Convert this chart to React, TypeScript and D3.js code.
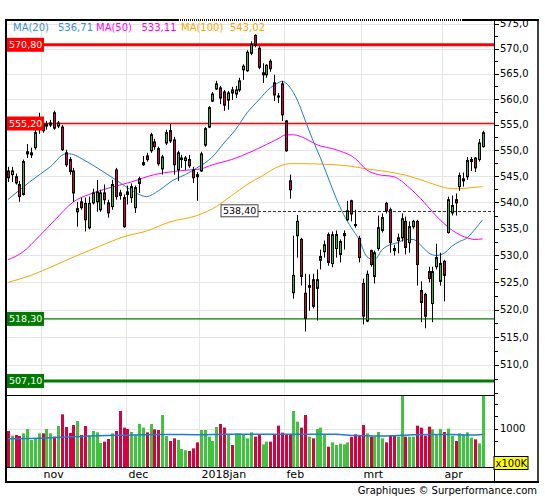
import React from "react";
import * as d3 from "d3";

// ---- data (AEX, daily, 19 Oct 2017 .. 17 Apr 2018) ----
const OPEN = [546.0,545.3,544.9,543.4,541.5,549.3,549.1,550.5,554.7,555.1,554.7,554.9,557.3,554.7,554.5,549.5,548.2,546.0,538.2,540.1,539.8,535.2,539.9,540.1,538.6,541.8,539.9,539.2,546.2,541.8,540.9,542.0,540.9,539.0,543.6,547.2,548.9,549.9,551.6,550.3,546.4,551.4,553.8,552.0,546.2,548.2,548.0,548.2,546.2,545.3,546.0,551.0,554.5,559.6,562.0,562.2,561.4,559.8,561.8,561.0,561.8,565.8,565.6,569.1,572.7,570.1,564.8,564.8,567.5,563.2,560.6,563.0,555.7,544.1,523.1,533.7,533.0,523.0,524.1,525.5,523.9,529.1,530.7,533.9,528.5,531.3,530.2,533.7,536.7,540.3,535.8,533.2,524.8,517.9,530.9,526.1,531.3,534.7,539.8,538.6,531.3,532.8,533.3,536.4,532.4,535.4,536.4,523.5,522.8,527.0,521.1,527.9,525.2,528.9,534.3,538.0,540.5,543.0,544.1,544.9,547.8,548.5,548.2,550.7];
const HIGH = [546.8,546.8,545.5,544.1,548.2,551.2,550.5,554.0,557.3,555.9,555.7,555.9,557.7,555.7,554.9,550.1,548.7,546.6,540.1,540.9,540.9,541.1,542.6,544.3,542.4,543.4,540.5,544.3,546.6,542.4,541.5,543.2,543.6,543.2,544.9,548.9,549.5,553.4,552.2,550.7,549.1,554.0,555.1,552.6,549.9,549.1,548.9,549.1,546.8,545.8,549.7,554.5,558.6,561.4,563.6,562.6,561.8,561.6,562.4,562.6,564.2,566.9,569.7,571.5,572.9,570.5,567.1,566.9,567.9,564.8,561.2,563.6,555.9,545.3,533.7,537.6,533.3,526.6,526.5,526.6,527.4,531.1,532.8,534.3,534.5,534.7,533.0,534.7,540.3,540.5,538.6,533.7,525.7,527.2,531.1,530.9,537.5,537.9,540.1,539.0,532.0,534.1,537.9,537.3,536.4,536.7,536.7,525.2,523.1,527.9,527.9,532.2,530.5,529.2,541.1,541.3,541.7,545.7,545.7,548.7,548.7,548.7,552.2,553.8];
const LOW = [543.9,543.9,543.4,540.1,541.3,548.5,548.5,550.1,553.2,553.4,554.0,554.5,554.0,554.3,549.9,546.8,545.3,540.1,535.4,538.6,534.5,534.9,539.6,538.2,538.2,539.6,537.1,538.6,540.5,540.5,535.2,539.6,539.9,538.0,541.8,547.0,547.8,549.5,550.1,547.0,545.3,551.0,551.4,545.3,544.1,546.6,546.2,546.6,543.7,540.3,545.8,550.7,554.3,559.4,561.8,559.0,557.7,557.9,559.8,560.2,561.4,563.8,565.4,568.7,570.3,565.9,563.2,564.2,565.4,559.6,559.2,555.7,549.7,540.7,522.0,529.6,524.4,516.0,519.8,520.2,518.0,527.4,529.6,528.1,527.8,529.6,528.7,531.1,536.4,536.4,535.2,528.7,517.3,517.7,527.9,524.8,530.9,534.3,537.9,530.5,530.0,530.4,532.6,530.2,530.5,535.0,524.4,517.7,516.6,525.0,517.7,527.4,524.4,521.5,534.1,537.5,537.5,542.2,543.0,544.3,546.0,545.8,547.8,550.5];
const CLOSE = [544.7,546.0,543.7,541.1,547.8,549.7,549.5,553.4,555.5,553.8,555.1,555.3,554.3,555.3,550.1,547.2,545.9,541.8,538.8,539.0,536.7,539.8,541.8,542.0,541.8,540.5,538.0,543.4,541.1,541.3,535.4,541.5,543.0,542.8,544.5,547.6,548.2,553.0,550.7,547.4,548.7,553.4,551.8,547.2,549.5,548.5,548.5,547.0,544.7,544.9,549.3,554.2,558.3,561.0,563.0,560.2,558.8,561.2,561.2,561.8,563.6,566.5,569.3,570.9,570.7,566.3,565.2,566.7,566.0,560.8,560.4,556.9,549.9,542.4,526.3,536.4,526.1,518.4,524.4,520.6,525.5,529.8,532.0,528.7,533.9,533.9,532.6,534.1,538.4,537.8,535.6,529.6,518.8,526.5,528.3,530.5,535.2,537.1,538.4,532.4,530.9,533.3,536.9,531.5,535.4,536.4,528.3,521.3,518.8,525.7,527.0,529.6,528.5,526.3,540.5,539.4,539.9,545.1,544.5,548.0,548.2,546.6,551.4,553.4];
// volume in units of 100K
const VOLUME = [954,861,874,854,907,994,774,807,907,907,994,907,841,1054,1287,1034,914,1074,1154,874,1054,867,954,927,714,741,794,907,954,1354,1021,994,934,874,1094,1021,927,1094,987,974,1274,854,754,807,774,594,567,554,607,727,974,974,841,754,1034,1094,1021,887,674,907,907,874,807,927,841,887,687,741,741,887,1061,921,887,887,1354,1141,1021,1274,841,807,994,1021,887,641,727,674,701,687,727,834,887,874,1074,907,841,841,934,807,727,874,874,841,1800,841,841,841,1061,1021,861,1041,987,874,994,934,1001,861,754,907,874,927,821,787,707,1800];

// moving averages (candle index, value)
const MA20_IDX = [0,6,11,15,16,20,24,28,31,34,36,39,43,46,49,53,56,59,62,65,68,70,71,72,73,75,77,79,81,83,85,87,89,91,93,95,97,99,101,103,105,107,109,111,113,115,117,119,121,123];
const MA20_VAL = [540.5,544.1,546.8,549.3,549.3,548.0,546.2,544.3,542.8,541.5,541.1,542.2,544.3,545.3,546.6,548.7,551.4,554.0,557.3,559.8,562.2,563.2,563.5,563.2,562.4,559.8,555.9,552.0,548.5,544.7,540.9,537.7,535.2,533.0,529.8,529.2,531.1,532.0,532.4,533.0,533.0,531.9,530.5,530.0,530.4,531.7,532.6,533.3,534.9,536.7];
const MA50_IDX = [0,4,8,12,17,21,26,32,38,43,47,50,53,58,63,67,70,72,74,77,80,85,90,93,96,100,104,107,110,113,116,119,121,123];
const MA50_VAL = [529.2,530.7,533.5,536.5,540.1,541.5,542.7,543.9,545.3,545.9,546.2,546.4,547.2,548.2,549.7,551.1,552.2,553.0,553.0,552.3,551.1,550.1,548.4,546.2,545.3,544.9,542.8,540.7,538.2,536.0,534.3,533.3,533.0,533.1];
const MA100_IDX = [0,6,12,18,24,30,36,42,49,54,58,62,66,70,73,77,82,88,93,98,103,107,111,114,117,120,123];
const MA100_VAL = [525.0,526.3,528.1,530.0,531.8,533.5,534.6,536.3,537.5,539.2,541.3,543.4,545.1,546.8,547.4,547.4,547.3,547.0,546.4,545.9,545.2,544.3,543.3,542.7,542.6,542.8,543.0];
const VOLMA_IDX = [0,10,20,30,40,50,56,70,80,85,90,95,100,105,110,115,120,123];
const VOLMA_VAL = [800,815,850,870,885,880,890,888,890,887,862,856,860,878,885,882,875,885];

const MONTH_LABELS = ["nov", "dec", "2018jan", "feb", "mrt", "apr"];
const MONTH_START = [9, 31, 50, 72, 92, 113];
const PRICE_TICKS = [510, 515, 520, 525, 530, 535, 540, 545, 550, 555, 560, 565, 570, 575];
const PRICE_MINOR = [505, 507.5, 512.5, 517.5, 522.5, 527.5, 532.5, 537.5, 542.5, 547.5, 552.5, 557.5, 562.5, 567.5, 572.5];
const VOL_TICKS = [750, 1000, 1250, 1500];
const LEVEL_VALUES = [570.8, 555.2, 518.3, 507.1];
const LEVEL_COLORS = ["#ff0000", "#ff0000", "#007a00", "#007a00"];
const LEVEL_WIDTHS = [3, 1.3, 1.3, 3];
const LAST_PRICE = 538.4;
const LEGEND_NAMES = ["MA(20)", "MA(50)", "MA(100)"];
const LEGEND_VALUES = [536.71, 533.11, 543.02];
const LEGEND_COLORS = ["#1f7ad8", "#ff00ff", "#ffa500"];

const FONT = "'DejaVu Sans', Verdana, sans-serif";
const GREEN = "#3cb43c";
const RED = "#d4003c";
const VGREEN = "#40c440";
const VRED = "#d8003f";

const fmt1 = (v: number) => d3.format(".1f")(v).replace(".", ",");
const fmt2 = (v: number) => d3.format(".2f")(v).replace(".", ",");

export default function App() {
  const W = 545, H = 500;
  const L = 7, R = 494, TOP = 20, PB = 395, VB = 467, XB = 482, OUTR = 538;
  const N = CLOSE.length;
  const x = d3.scaleLinear().domain([0, N - 1]).range([7.8, 7.8 + 3.86 * (N - 1)]);
  const step = 3.86;
  const y = d3.scaleLog().domain([504.6, 575.8]).range([PB, TOP]);
  const yv = d3.scaleLinear().domain([234, 1674]).range([VB, PB]);
  const cx = (i: number) => Math.round(x(i)) + 0.5;

  const maLine = d3.line<number>().curve(d3.curveMonotoneX);
  const mkPath = (idx: number[], val: number[], sy: (v: number) => number) =>
    maLine(idx.map((d, k) => [x(d), sy(val[k])] as any) as any) || "";

  const legendX = [13, 96, 181];
  const legendValX = [58, 141.5, 230];

  return (
    <svg width={W} height={H} style={{ position: "absolute", left: 0, top: 0, background: "#fff" }} fontFamily={FONT}>
      <defs>
        <clipPath id="pclip"><rect x={L} y={TOP} width={R - L} height={PB - TOP} /></clipPath>
        <clipPath id="vclip"><rect x={L} y={PB} width={R - L} height={VB - PB} /></clipPath>
      </defs>
      <rect x={0} y={0} width={W} height={H} fill="#fff" />

      {/* grid */}
      {PRICE_TICKS.map((t) => (
        <line key={"gh" + t} x1={L} x2={R} y1={Math.round(y(t)) + 0.5} y2={Math.round(y(t)) + 0.5} stroke="#e6e6e6" strokeWidth={1} />
      ))}
      <line x1={L} x2={R} y1={Math.round(yv(1000)) + 0.5} y2={Math.round(yv(1000)) + 0.5} stroke="#e6e6e6" />
      {MONTH_START.map((m) => {
        const gx = Math.round(x(m) - step / 2) + 0.5;
        return <line key={"gv" + m} x1={gx} x2={gx} y1={TOP} y2={VB} stroke="#e6e6e6" strokeWidth={1} />;
      })}

      {/* level lines */}
      {LEVEL_VALUES.map((v, k) => (
        <line key={"lv" + k} x1={L} x2={R} y1={y(v)} y2={y(v)} stroke={LEVEL_COLORS[k]} strokeWidth={LEVEL_WIDTHS[k]} />
      ))}
      <line x1={258} x2={R} y1={Math.round(y(LAST_PRICE)) + 0.5} y2={Math.round(y(LAST_PRICE)) + 0.5} stroke="#333" strokeWidth={1} strokeDasharray="3,2" />

      {/* moving averages */}
      <g clipPath="url(#pclip)" fill="none" strokeWidth={1}>
        <path d={mkPath(MA100_IDX, MA100_VAL, y)} stroke={LEGEND_COLORS[2]} />
        <path d={mkPath(MA50_IDX, MA50_VAL, y)} stroke={LEGEND_COLORS[1]} />
        <path d={mkPath(MA20_IDX, MA20_VAL, y)} stroke={LEGEND_COLORS[0]} />
      </g>

      {/* candles */}
      <g clipPath="url(#pclip)">
        {CLOSE.map((c, i) => {
          const o = OPEN[i];
          const up = c >= o;
          const top = y(Math.max(o, c));
          const bot = y(Math.min(o, c));
          const X = cx(i);
          return (
            <g key={"c" + i}>
              <line x1={X} x2={X} y1={y(HIGH[i])} y2={y(LOW[i])} stroke="#000" strokeWidth={1} />
              <rect x={X - 1} y={top} width={2} height={Math.max(1, bot - top)} fill={up ? GREEN : RED} stroke="#000" strokeWidth={1} />
            </g>
          );
        })}
      </g>

      {/* level labels */}
      {LEVEL_VALUES.map((v, k) => (
        <g key={"lb" + k}>
          <rect x={L} y={y(v) - 7} width={37} height={14} fill={LEVEL_COLORS[k] === "#ff0000" ? "#ff0000" : "#007a00"} />
          <text x={L + 2} y={y(v) + 3.5} fontSize={9.5} fill="#fff">{fmt2(v)}</text>
        </g>
      ))}
      <rect x={221} y={y(LAST_PRICE) - 6} width={37} height={12} fill="#fff" stroke="#444" strokeWidth={1} />
      <text x={223} y={y(LAST_PRICE) + 3.5} fontSize={9.5} fill="#000">{fmt2(LAST_PRICE)}</text>

      {/* legend */}
      {LEGEND_NAMES.map((n, k) => (
        <g key={"lg" + k} fontSize={10} fill={k === 0 ? "#3b8ee0" : LEGEND_COLORS[k]}>
          <text x={legendX[k]} y={31}>{n}</text>
          <text x={legendValX[k]} y={31}>{fmt2(LEGEND_VALUES[k])}</text>
        </g>
      ))}

      {/* volume */}
      <g clipPath="url(#vclip)">
        {VOLUME.map((v, i) => {
          const up = CLOSE[i] >= OPEN[i];
          const X = cx(i);
          return <rect key={"v" + i} x={X - 1.5} y={yv(v)} width={3} height={VB - yv(v)} fill={up ? VGREEN : VRED} />;
        })}
        <path d={mkPath(VOLMA_IDX, VOLMA_VAL, yv)} fill="none" stroke="#1f7ad8" strokeWidth={1.5} />
      </g>

      {/* axes & frames */}
      <line x1={L} x2={R} y1={PB + 0.5} y2={PB + 0.5} stroke="#000" strokeWidth={1} />
      <line x1={L} x2={R} y1={VB + 0.5} y2={VB + 0.5} stroke="#000" strokeWidth={1} />
      <line x1={R + 0.5} x2={R + 0.5} y1={TOP} y2={XB} stroke="#000" strokeWidth={1} />
      <line x1={6} x2={178} y1={20} y2={20} stroke="#000" strokeWidth={2} />
      <line x1={178} x2={463} y1={20} y2={20} stroke="#000" strokeWidth={2} strokeDasharray="1,1" />
      <line x1={463} x2={OUTR + 1} y1={20} y2={20} stroke="#000" strokeWidth={2} />
      <line x1={6} x2={6} y1={19} y2={XB + 1} stroke="#000" strokeWidth={2} />
      <line x1={OUTR} x2={OUTR} y1={19} y2={XB + 1} stroke="#000" strokeWidth={1.5} />
      <line x1={6} x2={OUTR + 1} y1={XB} y2={XB} stroke="#000" strokeWidth={2} />

      {/* price axis */}
      {PRICE_TICKS.map((t) => (
        <g key={"pt" + t}>
          <line x1={R} x2={R + 5} y1={Math.round(y(t)) + 0.5} y2={Math.round(y(t)) + 0.5} stroke="#000" />
          <text x={R + 6} y={y(t) + 3.5} fontSize={10} fill="#000">{fmt1(t)}</text>
        </g>
      ))}
      {PRICE_MINOR.map((t) => (
        <line key={"pm" + t} x1={R} x2={R + 4} y1={Math.round(y(t)) + 0.5} y2={Math.round(y(t)) + 0.5} stroke="#000" />
      ))}

      {/* volume axis */}
      {VOL_TICKS.map((t) => (
        <line key={"vt" + t} x1={R} x2={R + 4} y1={Math.round(yv(t)) + 0.5} y2={Math.round(yv(t)) + 0.5} stroke="#000" />
      ))}
      <text x={R + 6} y={yv(1000) + 3.5} fontSize={10} fill="#000">1000</text>
      <rect x={R} y={456.5} width={34} height={13} fill="#ffff00" stroke="#000" strokeWidth={1} />
      <text x={R + 1.5} y={466.5} fontSize={10} fill="#000">x100K</text>

      {/* x axis labels */}
      {MONTH_START.map((m, k) => (
        <text key={"ml" + m} x={Math.round(x(m) - step / 2) + 2.5} y={478} fontSize={11} fill="#000">{MONTH_LABELS[k]}</text>
      ))}

      <text x={537} y={494} fontSize={10} textAnchor="end" fill="#000">Graphiques © Surperformance.com</text>
    </svg>
  );
}
